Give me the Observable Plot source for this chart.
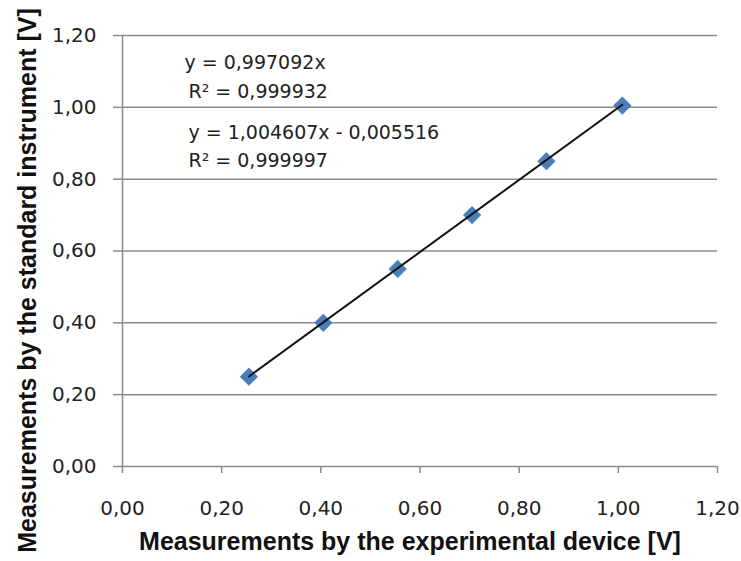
<!DOCTYPE html>
<html>
<head>
<meta charset="utf-8">
<script src="https://cdn.jsdelivr.net/npm/d3@7"></script>
<script src="https://cdn.jsdelivr.net/npm/@observablehq/plot@0.6"></script>
<style>
  html, body { margin: 0; padding: 0; background: #fff; }
</style>
</head>
<body>
<div id="chart"></div>
<script>
// Data
const experimental = [0.255, 0.405, 0.555, 0.705, 0.855, 1.008];
const standard     = [0.250, 0.400, 0.550, 0.700, 0.850, 1.005];

// Linear trend (from chart label)
const trendSlope = 1.004607;
const trendIntercept = -0.005516;

const xTicks = [0, 0.2, 0.4, 0.6, 0.8, 1.0, 1.2];
const yTicks = [0, 0.2, 0.4, 0.6, 0.8, 1.0, 1.2];

const annoText = ["y = 0,997092x", "R\u00B2 = 0,999932", "y = 1,004607x - 0,005516", "R\u00B2 = 0,999997"];
const annoX = [0.125, 0.133, 0.133, 0.133];
const annoY = [1.125, 1.044, 0.928, 0.850];

const xTitle = "Measurements by the experimental device [V]";
const yTitle = "Measurements by the standard instrument [V]";

const points = experimental.map((x, i) => ({x, y: standard[i]}));
const xExt = d3.extent(experimental);
const trend = xExt.map(x => ({x, y: trendSlope * x + trendIntercept}));
const anno = annoText.map((t, i) => ({t, x: annoX[i], y: annoY[i]}));

const fmt = d => d.toFixed(2).replace(".", ",");
const grid = "#8c8c8c";
const textColor = "#222";

const chart = Plot.plot({
  width: 741,
  height: 561,
  marginLeft: 122,
  marginRight: 24,
  marginTop: 35,
  marginBottom: 95,
  style: {fontFamily: "DejaVu Sans", background: "#fff", overflow: "visible"},
  x: {domain: [0, 1.2]},
  y: {domain: [0, 1.2]},
  marks: [
    Plot.ruleY(yTicks, {stroke: grid, strokeWidth: 1.5}),
    Plot.ruleX([0], {stroke: grid, strokeWidth: 1.5}),
    Plot.axisY({ticks: yTicks, tickFormat: fmt, tickSize: 9, tickPadding: 17, fontSize: 20, stroke: grid, strokeWidth: 1.5, fill: textColor, label: null}),
    Plot.axisX({ticks: xTicks, tickFormat: fmt, tickSize: 7, tickPadding: 27, fontSize: 20, stroke: grid, strokeWidth: 1.5, fill: textColor, label: null}),
    Plot.dot(points, {x: "x", y: "y", symbol: "diamond2", r: 8, fill: "#4a7ebb", stroke: "#4f81bd", strokeWidth: 0.5}),
    Plot.line(trend, {x: "x", y: "y", stroke: "#111", strokeWidth: 2}),
    Plot.text(anno, {x: "x", y: "y", text: "t", textAnchor: "start", fontSize: 19, fill: textColor}),
    Plot.text([xTitle], {frameAnchor: "bottom", textAnchor: "middle", dx: -10, dy: 83, fontSize: 25, fontWeight: "bold", fontFamily: "Liberation Sans", fill: "#111"}),
    Plot.text([yTitle], {frameAnchor: "left", textAnchor: "middle", dx: -95, dy: 29.5, rotate: -90, fontSize: 25, fontWeight: "bold", fontFamily: "Liberation Sans", fill: "#111"})
  ]
});
document.getElementById("chart").appendChild(chart);
</script>
</body>
</html>
